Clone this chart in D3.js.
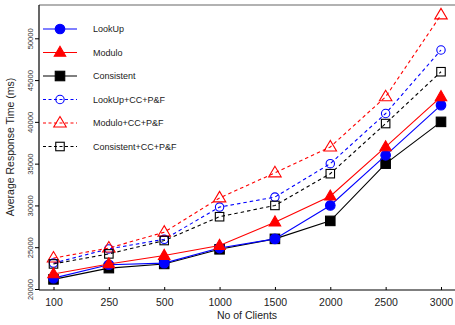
<!DOCTYPE html>
<html>
<head>
<meta charset="utf-8">
<script src="https://cdn.jsdelivr.net/npm/d3@7"></script>
<style>
  html, body { margin: 0; padding: 0; background: #fff; }
  svg { display: block; font-family: "Liberation Sans", Arial, sans-serif; }
</style>
</head>
<body>
<svg id="chart" width="455" height="325"></svg>
<script>
// Number of clients on the x axis
const clients = ["100", "250", "500", "1000", "1500", "2000", "2500", "3000"];

// Average response time (ms) per scheme
const lookup       = [21300, 22900, 23100, 24900, 26000, 30000, 36000, 42000];
const modulo       = [21800, 23000, 24000, 25200, 28000, 31100, 37000, 43000];
const consistent   = [21150, 22500, 23000, 24750, 26000, 28150, 35000, 40000];
const lookupCC     = [23100, 24800, 25950, 29800, 31000, 35000, 41000, 48600];
const moduloCC     = [23700, 24900, 26800, 30900, 33900, 37000, 43000, 52800];
const consistentCC = [23000, 24200, 25800, 28650, 30000, 33800, 39800, 46000];

const yTicks = [20000, 25000, 30000, 35000, 40000, 45000, 50000];

const seriesNames = ["LookUp", "Modulo", "Consistent",
                     "LookUp+CC+P&F", "Modulo+CC+P&F", "Consistent+CC+P&F"];

const series = [
  { name: seriesNames[0], values: lookup,       color: "#0000ff", shape: "circle",   filled: true,  dashed: false },
  { name: seriesNames[1], values: modulo,       color: "#ff0000", shape: "triangle", filled: true,  dashed: false },
  { name: seriesNames[2], values: consistent,   color: "#000000", shape: "square",   filled: true,  dashed: false },
  { name: seriesNames[3], values: lookupCC,     color: "#0000ff", shape: "circle",   filled: false, dashed: true },
  { name: seriesNames[4], values: moduloCC,     color: "#ff0000", shape: "triangle", filled: false, dashed: true },
  { name: seriesNames[5], values: consistentCC, color: "#000000", shape: "square",   filled: false, dashed: true }
];

const svg = d3.select("#chart");

const box = { left: 39, right: 455, top: 5, bottom: 290 };

const x = d3.scalePoint().domain(clients).range([53.5, 441]);
const y = d3.scaleLinear().domain([20000, 50000]).range([289, 38.3]);

// Frame: grey top edge, black left and bottom axes
svg.append("line")
  .attr("x1", box.left).attr("x2", box.right)
  .attr("y1", box.top).attr("y2", box.top)
  .attr("stroke", "#666").attr("stroke-width", 1.2);

// Y axis
const yAxis = svg.append("g")
  .attr("transform", `translate(${box.left},0)`)
  .call(d3.axisLeft(y).tickValues(yTicks).tickSize(4).tickFormat(d3.format("d")));
yAxis.select(".domain").remove();
yAxis.append("line")
  .attr("x1", 0).attr("x2", 0).attr("y1", box.top).attr("y2", box.bottom)
  .attr("stroke", "#000").attr("stroke-width", 1.2);
yAxis.selectAll(".tick line").attr("stroke", "#000");
yAxis.selectAll(".tick text")
  .attr("x", 0).attr("dy", 0)
  .attr("transform", "translate(-6,0) rotate(-90)")
  .attr("text-anchor", "middle")
  .attr("font-size", 7.6)
  .attr("fill", "#333")
  .attr("font-family", "Liberation Sans, Arial, sans-serif");

// X axis
const xAxis = svg.append("g")
  .attr("transform", `translate(0,${box.bottom})`)
  .call(d3.axisBottom(x).tickSize(-3).tickPadding(10));
xAxis.select(".domain").remove();
xAxis.append("line")
  .attr("x1", box.left).attr("x2", box.right).attr("y1", 0).attr("y2", 0)
  .attr("stroke", "#000").attr("stroke-width", 1.2);
xAxis.selectAll(".tick line").attr("stroke", "#000");
xAxis.selectAll(".tick text")
  .attr("y", 16).attr("dy", 0)
  .attr("font-size", 10.5)
  .attr("fill", "#222")
  .attr("font-family", "Liberation Sans, Arial, sans-serif");

// Axis titles
svg.append("text")
  .attr("x", 247).attr("y", 319)
  .attr("text-anchor", "middle")
  .attr("font-size", 10.5).attr("fill", "#222")
  .text("No of Clients");

svg.append("text")
  .attr("transform", "translate(14,147) rotate(-90)")
  .attr("text-anchor", "middle")
  .attr("font-size", 10.5).attr("fill", "#222")
  .text("Average Response Time (ms)");

// Marker drawing
function drawMarker(g, s, cx, cy) {
  const fill = s.filled ? s.color : "none";
  if (s.shape === "circle") {
    g.append("circle")
      .attr("cx", cx).attr("cy", cy)
      .attr("r", s.filled ? 4.8 : 4.2)
      .attr("fill", fill).attr("stroke", s.color).attr("stroke-width", 1.1);
  } else if (s.shape === "triangle") {
    const h = s.filled ? 10 : 10.5, w = s.filled ? 11.5 : 12.5;
    const pts = [[cx, cy - h * 0.62], [cx - w / 2, cy + h * 0.38], [cx + w / 2, cy + h * 0.38]];
    g.append("path")
      .attr("d", "M" + pts.map(p => p.join(",")).join("L") + "Z")
      .attr("fill", fill).attr("stroke", s.color).attr("stroke-width", 1.1);
  } else {
    const a = s.filled ? 9.5 : 8.5;
    g.append("rect")
      .attr("x", cx - a / 2).attr("y", cy - a / 2)
      .attr("width", a).attr("height", a)
      .attr("fill", fill).attr("stroke", s.color).attr("stroke-width", 1.1);
  }
}

// Series lines and markers (dashed series underneath the solid ones)
const drawOrder = [3, 4, 5, 2, 0, 1];
const line = d3.line().x((d, i) => x(clients[i])).y(d => y(d));

drawOrder.forEach(k => {
  const s = series[k];
  const g = svg.append("g");
  g.append("path")
    .attr("d", line(s.values))
    .attr("fill", "none")
    .attr("stroke", s.color)
    .attr("stroke-width", 1.1)
    .attr("stroke-dasharray", s.dashed ? "3.5,3" : null);
  s.values.forEach((v, i) => drawMarker(g, s, x(clients[i]), y(v)));
});

// Legend
const legend = svg.append("g");
series.forEach((s, i) => {
  const ly = 29 + i * 23.5;
  legend.append("line")
    .attr("x1", 43).attr("x2", 77).attr("y1", ly).attr("y2", ly)
    .attr("stroke", s.color).attr("stroke-width", 1.1)
    .attr("stroke-dasharray", s.dashed ? "3,2.5" : null);
  const shifted = Object.assign({}, s);
  drawMarker(legend, shifted, 60, ly);
  legend.append("text")
    .attr("x", 93).attr("y", ly + 3.2)
    .attr("font-size", 9).attr("fill", "#222")
    .text(s.name);
});
</script>
</body>
</html>
